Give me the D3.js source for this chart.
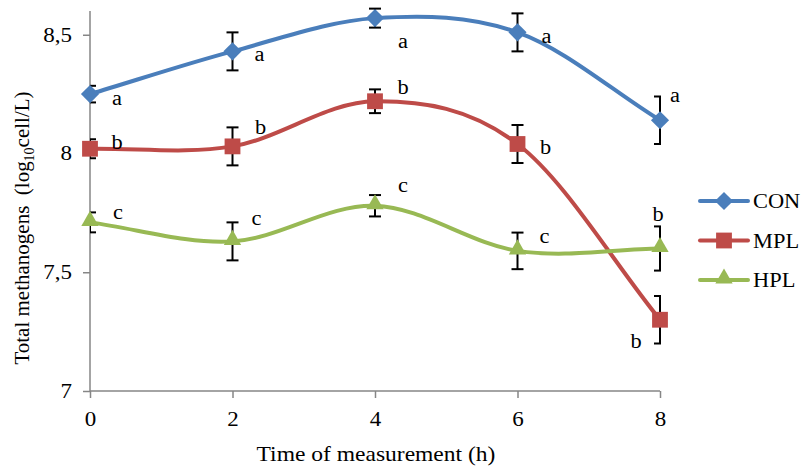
<!DOCTYPE html>
<html>
<head>
<meta charset="utf-8">
<script src="https://cdn.jsdelivr.net/npm/d3@7"></script>
<style>
  body { margin: 0; background: #fff; }
  svg text { font-family: "Liberation Serif", "DejaVu Serif", serif; }
</style>
</head>
<body>
<svg width="802" height="468"></svg>
<script>
// values
const times = [0, 2, 4, 6, 8];
const seriesNames = ['CON', 'MPL', 'HPL'];
const conMean = [8.25, 8.43, 8.57, 8.51, 8.14];
const conErr = [0.035, 0.08, 0.04, 0.08, 0.10];
const mplMean = [8.02, 8.03, 8.22, 8.04, 7.30];
const mplErr = [0.04, 0.08, 0.05, 0.08, 0.10];
const hplMean = [7.71, 7.63, 7.78, 7.59, 7.60];
const hplErr = [0.042, 0.08, 0.045, 0.077, 0.093];
const conLetters = ['a', 'a', 'a', 'a', 'a'];
const mplLetters = ['b', 'b', 'b', 'b', 'b'];
const hplLetters = ['c', 'c', 'c', 'c', 'b'];
const yTicks = [7, 7.5, 8, 8.5];
const xTicks = [0, 2, 4, 6, 8];

const colors = { CON: '#4a7ebb', MPL: '#be4b48', HPL: '#98b954' };
// diamond = rotated square, like Excel's marker
const shapes = { CON: d3.symbolSquare, MPL: d3.symbolSquare, HPL: d3.symbolTriangle };
const sizes = { CON: 165, MPL: 250, HPL: 130 };
const rot = { CON: 45, MPL: 0, HPL: 0 };
const shift = { CON: 0, MPL: 0, HPL: -1.5 };
// where each letter sits relative to its point
const letterOffsets = {
  CON: [[27, 4], [27, 3], [28, 23], [29, 4], [15, -25]],
  MPL: [[27, -7], [28, -19], [28, -14], [28, 3], [-24, 21]],
  HPL: [[28, -10], [24, -23], [28, -21], [27, -15], [-2, -35]]
};

const series = [
  { name: 'CON', mean: conMean, err: conErr, letters: conLetters },
  { name: 'MPL', mean: mplMean, err: mplErr, letters: mplLetters },
  { name: 'HPL', mean: hplMean, err: hplErr, letters: hplLetters }
];

const svg = d3.select('svg');
const x = d3.scaleLinear().domain([0, 8]).range([90, 660]);
const y = d3.scaleLinear().domain([7, 8.6]).range([391, 11]);
const axisColor = '#868686';

// the source picture is a bit wider than tall, so text is stretched sideways
function stretch(sel, k) {
  sel.each(function () {
    const w = this.getComputedTextLength();
    d3.select(this).attr('textLength', w * k).attr('lengthAdjust', 'spacingAndGlyphs');
  });
}

// Excel-ish smoothed line: catmull-rom inside, longer straight handles at the ends
function excelCurve(context) {
  let pts = [];
  return {
    areaStart() {}, areaEnd() {},
    lineStart() { pts = []; },
    point(px, py) { pts.push([px, py]); },
    lineEnd() {
      context.moveTo(pts[0][0], pts[0][1]);
      for (let i = 0; i < pts.length - 1; i++) {
        const p0 = pts[i - 1], p1 = pts[i], p2 = pts[i + 1], p3 = pts[i + 2];
        const c1 = p0 ? [p1[0] + (p2[0] - p0[0]) / 6, p1[1] + (p2[1] - p0[1]) / 6]
                      : [p1[0] + (p2[0] - p1[0]) / 3, p1[1] + (p2[1] - p1[1]) / 3];
        const c2 = p3 ? [p2[0] - (p3[0] - p1[0]) / 6, p2[1] - (p3[1] - p1[1]) / 6]
                      : [p2[0] - (p2[0] - p1[0]) / 3, p2[1] - (p2[1] - p1[1]) / 3];
        context.bezierCurveTo(c1[0], c1[1], c2[0], c2[1], p2[0], p2[1]);
      }
    }
  };
}

svg.append('defs').append('clipPath').attr('id', 'plot')
  .append('rect').attr('x', x(0)).attr('y', 0).attr('width', x(8) - x(0) + 1).attr('height', 468);

// axes
const yAxis = svg.append('g').attr('transform', `translate(${x(0)},0)`)
  .call(d3.axisLeft(y).tickValues(yTicks).tickSize(7).tickPadding(11)
    .tickFormat(d => String(d).replace('.', ',')));
const xAxis = svg.append('g').attr('transform', `translate(0,${y(7)})`)
  .call(d3.axisBottom(x).tickValues(xTicks).tickSize(7).tickPadding(14));
[xAxis, yAxis].forEach(g => {
  g.attr('font-family', null).attr('font-size', null);
  g.select('.domain').remove();
  g.selectAll('line').attr('stroke', axisColor).attr('stroke-width', 1.5);
  g.selectAll('text').attr('font-size', 20).attr('fill', '#000').call(stretch, 1.15);
});
svg.append('line').attr('x1', x(0)).attr('x2', x(0)).attr('y1', y(8.6)).attr('y2', y(7))
  .attr('stroke', axisColor).attr('stroke-width', 1.5);
svg.append('line').attr('x1', x(0)).attr('x2', x(8)).attr('y1', y(7)).attr('y2', y(7))
  .attr('stroke', axisColor).attr('stroke-width', 1.5);

// axis titles
svg.append('text').attr('x', 376).attr('y', 461).attr('text-anchor', 'middle')
  .attr('font-size', 21).text('Time of measurement (h)').call(stretch, 1.12);
const yt = svg.append('text').attr('transform', 'translate(29,228) rotate(-90)')
  .attr('text-anchor', 'middle').attr('font-size', 21);
yt.append('tspan').text('Total methanogens\u00a0\u00a0(log');
yt.append('tspan').attr('font-size', 14).attr('dy', 5).text('10');
yt.append('tspan').attr('dy', -5).text('cell/L)');

// error bars (clipped to plot area like the original)
const errG = svg.append('g').attr('clip-path', 'url(#plot)');
series.forEach(s => {
  times.forEach((t, i) => {
    const cx = x(t), lo = y(s.mean[i] - s.err[i]), hi = y(s.mean[i] + s.err[i]);
    const g = errG.append('g').attr('stroke', '#000').attr('stroke-width', 2);
    g.append('line').attr('x1', cx).attr('x2', cx).attr('y1', lo).attr('y2', hi);
    g.append('line').attr('x1', cx - 6).attr('x2', cx + 6).attr('y1', lo).attr('y2', lo);
    g.append('line').attr('x1', cx - 6).attr('x2', cx + 6).attr('y1', hi).attr('y2', hi);
  });
});

const line = d3.line().x(d => x(d[0])).y(d => y(d[1])).curve(excelCurve);

series.forEach(s => {
  const pts = times.map((t, i) => [t, s.mean[i]]);
  svg.append('path').datum(pts).attr('d', line)
    .attr('fill', 'none').attr('stroke', colors[s.name]).attr('stroke-width', 4)
    .attr('stroke-linejoin', 'round');
  svg.selectAll(null).data(pts).join('path')
    .attr('transform', d => `translate(${x(d[0])},${y(d[1]) + shift[s.name]}) rotate(${rot[s.name]})`)
    .attr('d', d3.symbol().type(shapes[s.name]).size(sizes[s.name]))
    .attr('fill', colors[s.name]);
  svg.selectAll(null).data(pts).join('text')
    .attr('x', (d, i) => x(d[0]) + letterOffsets[s.name][i][0])
    .attr('y', (d, i) => y(d[1]) + letterOffsets[s.name][i][1])
    .attr('text-anchor', 'middle').attr('dominant-baseline', 'central')
    .attr('font-size', 20).text((d, i) => s.letters[i]).call(stretch, 1.12);
});

// legend
const legendY = d3.scalePoint().domain(seriesNames).range([201, 280]);
seriesNames.forEach(n => {
  const g = svg.append('g').attr('transform', `translate(0,${legendY(n)})`);
  g.append('line').attr('x1', 700).attr('x2', 748).attr('stroke', colors[n]).attr('stroke-width', 4)
    .attr('stroke-linecap', 'round');
  g.append('path').attr('transform', `translate(724,${shift[n]}) rotate(${rot[n]})`)
    .attr('d', d3.symbol().type(shapes[n]).size(sizes[n])).attr('fill', colors[n]);
  g.append('text').attr('x', 753).attr('dominant-baseline', 'central').attr('font-size', 20)
    .text(n).call(stretch, 1.12);
});
</script>
</body>
</html>
